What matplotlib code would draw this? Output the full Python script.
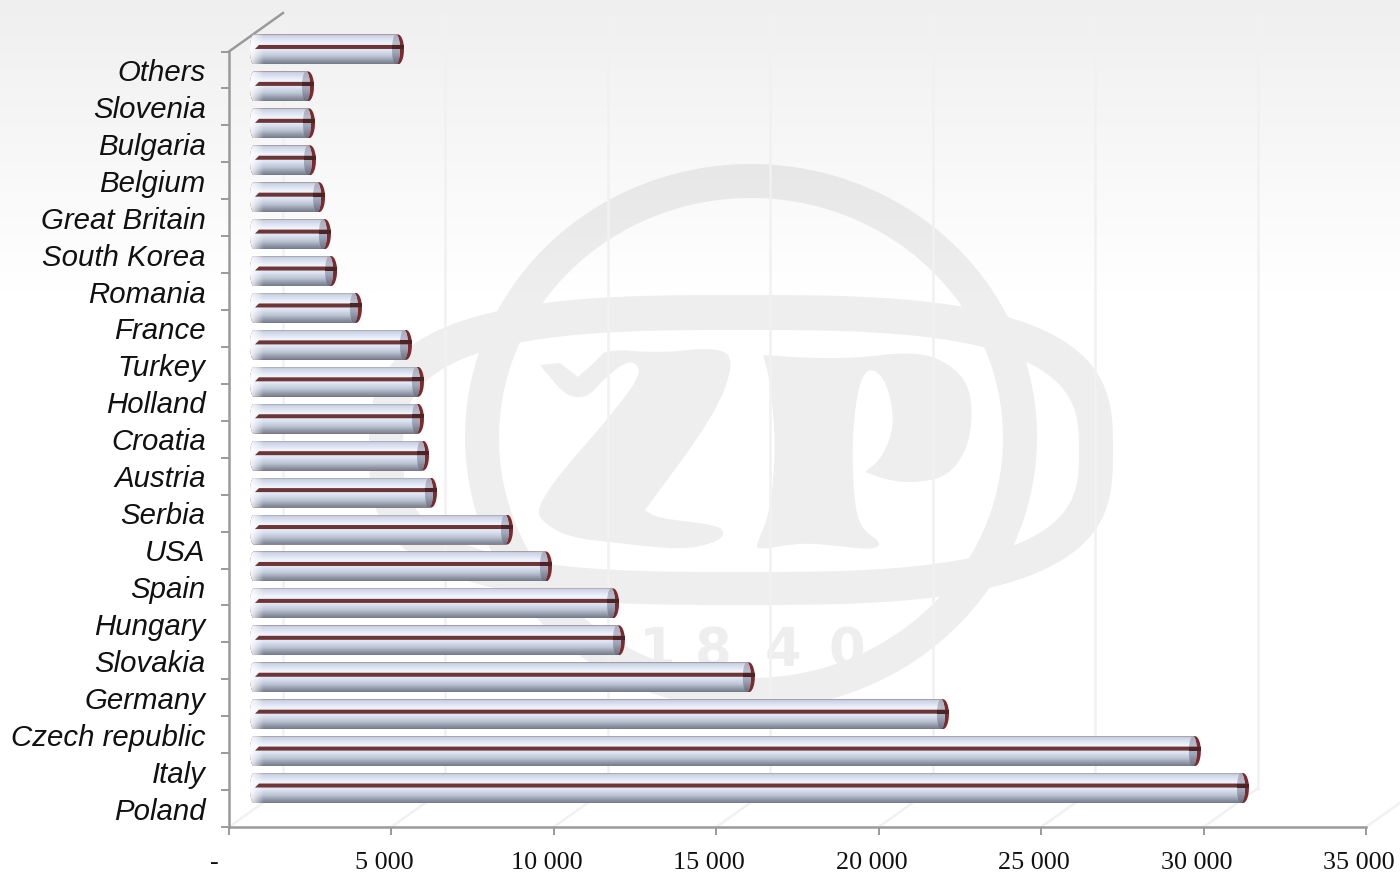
import numpy as np
import matplotlib
matplotlib.use("Agg")
import matplotlib.pyplot as plt
from matplotlib.colors import LinearSegmentedColormap
from matplotlib.patches import PathPatch, Polygon
from matplotlib.path import Path
from matplotlib.transforms import Affine2D

countries = ["Poland", "Italy", "Czech republic", "Germany", "Slovakia", "Hungary", "Spain",
             "USA", "Serbia", "Austria", "Croatia", "Holland", "Turkey", "France", "Romania",
             "South Korea", "Great Britain", "Belgium", "Bulgaria", "Slovenia", "Others"]
values = [30750, 29270, 21515, 15540, 11540, 11360, 9295,
          8095, 5755, 5510, 5355, 5355, 4985, 3445, 2680,
          2490, 2310, 2030, 2000, 1970, 4740]
x_ticks = [0, 5000, 10000, 15000, 20000, 25000, 30000, 35000]
x_labels = ["-", "5 000", "10 000", "15 000", "20 000", "25 000", "30 000", "35 000"]
logo_digits = ["1", "8", "4", "0"]

W, H = 1400, 872
L, R, B, T = 229, 1366, 827, 51.5
GRID = "#f1f1f1"
AXC = "#9a9a9a"
LOGO = "#eeeeee"

fig = plt.figure(figsize=(W / 100, H / 100), dpi=100, facecolor="white")

# ---------- background: logo watermark + soft top gradient ----------
bg = fig.add_axes([0, 0, 1, 1], zorder=0)
bg.set_xlim(0, W)
bg.set_ylim(H, 0)
bg.axis("off")


def superellipse(cx, cy, a, b, n=2.0, num=360):
    t = np.linspace(0, 2 * np.pi, num, endpoint=False)
    c, s = np.cos(t), np.sin(t)
    return np.c_[cx + a * np.sign(c) * np.abs(c) ** (2 / n), cy + b * np.sign(s) * np.abs(s) ** (2 / n)]


def ring(outer, inner):
    v = np.r_[outer, outer[:1], inner[::-1], inner[-1:]]
    codes = np.r_[[Path.MOVETO], [Path.LINETO] * (len(outer) - 1), [Path.CLOSEPOLY],
                  [Path.MOVETO], [Path.LINETO] * (len(inner) - 1), [Path.CLOSEPOLY]]
    return Path(v, codes)


def chaikin(points, rounds=2):
    p = np.asarray(points, float)
    for _ in range(rounds):
        q = np.roll(p, -1, axis=0)
        p = np.c_[0.75 * p + 0.25 * q, 0.25 * p + 0.75 * q].reshape(-1, 2)
    return p


bg.add_patch(PathPatch(ring(superellipse(751, 437, 286, 273), superellipse(751, 438, 252, 240)),
                       fc=LOGO, ec="none", zorder=1))
bg.add_patch(PathPatch(ring(superellipse(741, 450, 372, 155, 3), superellipse(741, 451, 338, 121, 3)),
                       fc=LOGO, ec="none", zorder=1))
z_shape = [(607, 349), (660, 353), (717, 347), (735, 360), (715, 415), (645, 510), (645, 510), (657, 518),
           (717, 525), (725, 533), (717, 542), (683, 550), (617, 543), (567, 537), (540, 520), (538, 507),
           (557, 477), (607, 420), (640, 377), (637, 363), (625, 362), (603, 380), (590, 395), (577, 398),
           (563, 393), (540, 365), (540, 365), (560, 363), (560, 363), (578, 377), (578, 377), (597, 360)]
p_shape = [(763, 355), (807, 358), (857, 358), (907, 352), (940, 358), (967, 380), (973, 413), (967, 450),
           (947, 477), (913, 483), (887, 480), (865, 472), (865, 472), (883, 457), (895, 423), (887, 383),
           (873, 368), (862, 375), (855, 407), (852, 453), (855, 510), (863, 530), (882, 543), (873, 550),
           (830, 545), (800, 543), (757, 550), (757, 543), (770, 513), (776, 447), (770, 380), (763, 355)]
bg.add_patch(Polygon(chaikin(z_shape), fc=LOGO, ec="none", zorder=1))
bg.add_patch(Polygon(chaikin(p_shape), fc=LOGO, ec="none", zorder=1))
for d, xd in zip(logo_digits, [657, 713, 783, 847]):
    bg.text(xd, 651, d, color=LOGO, fontsize=38, fontweight="bold", family="DejaVu Sans",
            ha="center", va="center", zorder=1)

shade = np.clip(0.066 * (1 - np.linspace(0, H, 436) / 310), 0, None)
rgba = np.zeros((436, 1, 4))
rgba[:, 0, 3] = shade
bg.imshow(rgba, extent=(0, W, H, 0), aspect="auto", zorder=2, interpolation="bilinear")
bg.set_xlim(0, W)
bg.set_ylim(H, 0)

# ---------- main axes ----------
ax = fig.add_axes([L / W, (H - B) / H, (R - L) / W, (B - T) / H], zorder=1)
ax.patch.set_visible(False)
n = len(countries)
ax.set_xlim(0, 35000)
ax.set_ylim(0, n)
PX = (R - L) / 35000  # pixels per value unit
PY = (B - T) / n      # pixels per category


def dx(px):
    return px / PX


def dy(px):
    return px / PY


for s in ("top", "right"):
    ax.spines[s].set_visible(False)
for s in ("left", "bottom"):
    ax.spines[s].set_color(AXC)
    ax.spines[s].set_linewidth(1.8)

ax.set_xticks(x_ticks)
ax.set_xticklabels(x_labels, family="Liberation Serif", fontsize=18.8, color="#111111")
ax.tick_params(axis="x", length=5.8, width=1.4, color=AXC, pad=12)
ax.set_yticks(np.arange(n + 1))
ax.set_yticklabels([])
ax.tick_params(axis="y", which="major", length=5.8, width=1.4, color=AXC)
ax.set_yticks(np.arange(n) + 0.5, minor=True)
ax.set_yticklabels(countries, minor=True, family="Liberation Sans", style="italic", fontsize=21.2, color="#111111")
ax.tick_params(axis="y", which="minor", length=0, pad=16.8)
for lab, t in zip(ax.get_xticklabels(), x_ticks):
    shift = -15 if t == 0 else -7
    lab.set_transform(lab.get_transform() + Affine2D().translate(shift, 0))

# back wall grid + floor lines + upper side edge
DEPTH_X, DEPTH_Y = dx(54), dy(38.5)
for t in x_ticks:
    ax.plot([t + DEPTH_X] * 2, [DEPTH_Y, n + DEPTH_Y], color=GRID, lw=1.8, clip_on=False, zorder=1)
    ax.plot([t, t + DEPTH_X], [0, DEPTH_Y], color=GRID, lw=1.8, clip_on=False, zorder=1)
ax.plot([0, DEPTH_X], [n, n + DEPTH_Y], color=AXC, lw=1.8, clip_on=False, zorder=2)

# ---------- cylinders ----------
OFF_X, OFF_Y, BAR_PX = 21, 20.5, 30
offset = ax.transData + Affine2D().translate(OFF_X, OFF_Y)
body_cmap = LinearSegmentedColormap.from_list("body", [
    (0.00, "#a5a5b0"), (0.04, "#c9d2e6"), (0.30, "#f0f4fc"), (0.55, "#dde5f5"),
    (0.75, "#bcc4d4"), (0.90, "#8f96a6"), (1.00, "#757b8b")])
cap_cmap = LinearSegmentedColormap.from_list("cap", [
    (0.0, "#a8a8b4"), (0.3, "#b6bdd0"), (0.6, "#a0a7ba"), (1.0, "#6a7080")])
ramp = np.linspace(0, 1, 64).reshape(-1, 1)
fade = np.ones((1, 32, 4))
fade[0, :, 3] = np.linspace(0.9, 0, 32)


def capsule(x0, x1, cy, h, rl, rr, num=24):
    """Outline with elliptic ends; rl/rr are the end radii in value units."""
    t = np.linspace(-np.pi / 2, np.pi / 2, num)
    right = np.c_[x1 + rr * np.cos(t), cy + h / 2 * np.sin(t)]
    left = np.c_[x0 - rl * np.cos(t[::-1]), cy + h / 2 * np.sin(t[::-1])]
    v = np.r_[right, left, right[:1]]
    return Path(v, [Path.MOVETO] + [Path.LINETO] * (len(v) - 2) + [Path.CLOSEPOLY])


h = dy(BAR_PX)
ypos = np.arange(n) + 0.5
bars = ax.barh(ypos, values, height=h, left=0, color="#7e2a2c", linewidth=0, transform=offset, zorder=3)
for bar, v, y in zip(bars, values, ypos):
    rl = dx(4)
    base = PathPatch(capsule(rl, v - dx(6), y, h, rl, dx(6)), transform=offset)
    bar.set_clip_path(base)
    bar.set_clip_box(fig.bbox)

    clip = PathPatch(capsule(rl, v - dx(8), y, h, rl, dx(4)), transform=offset)
    im = ax.imshow(ramp, cmap=body_cmap, extent=(0, v, y - h / 2, y + h / 2), aspect="auto",
                   origin="upper", transform=offset, zorder=4, interpolation="bilinear")
    im.set_clip_box(fig.bbox)
    im.set_clip_path(clip)
    hi = ax.imshow(fade, extent=(0, dx(14), y - h / 2, y + h / 2), aspect="auto",
                   transform=offset, zorder=5, interpolation="bilinear")
    hi.set_clip_box(fig.bbox)
    hi.set_clip_path(clip)

    cap = PathPatch(capsule(v - dx(8), v - dx(8), y, h, dx(4), dx(4)), transform=offset)
    ci = ax.imshow(ramp, cmap=cap_cmap, extent=(v - dx(13), v - dx(3), y - h / 2, y + h / 2), aspect="auto",
                   origin="upper", transform=offset, zorder=6, interpolation="bilinear")
    ci.set_clip_box(fig.bbox)
    ci.set_clip_path(cap)

    ly, lh = y + dy(2.5), dy(2.0)
    ax.fill([dx(5), dx(9), v, v], [ly - lh, ly + lh, ly + lh, ly - lh], color="#6d3535", lw=0,
            transform=offset, zorder=7, clip_on=False)
    ax.fill([v - dx(12), v - dx(12), v, v], [ly - lh, ly + lh, ly + lh, ly - lh], color="#4d2324", lw=0,
            transform=offset, zorder=8, clip_on=False)

ax.set_xlim(0, 35000)
ax.set_ylim(0, n)

fig.savefig("out.png", dpi=100)
